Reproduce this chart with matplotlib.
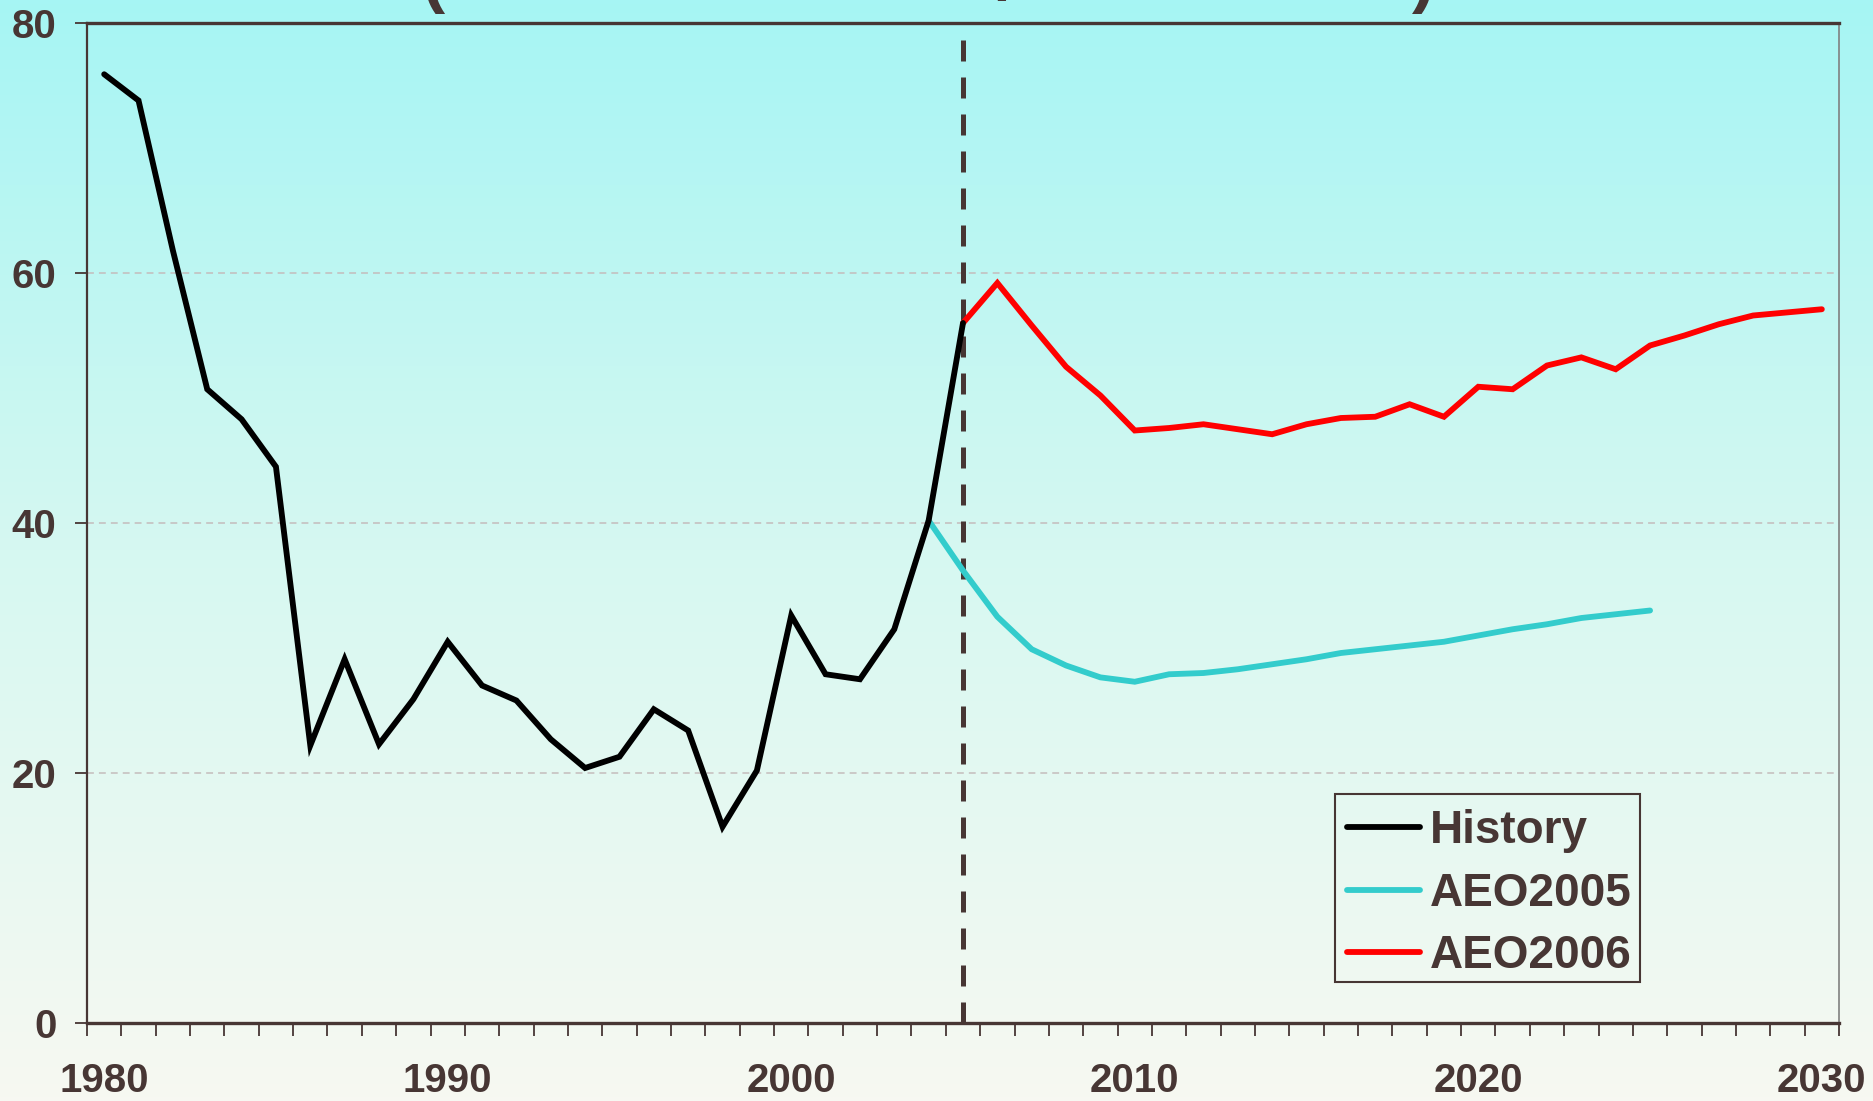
import numpy as np
import matplotlib as mpl
mpl.use('Agg')
import matplotlib.pyplot as plt
from matplotlib.colors import LinearSegmentedColormap
from matplotlib.patches import Rectangle

# plot settings
mpl.rcParams['font.family'] = ['Liberation Sans', 'DejaVu Sans']
mpl.rcParams['font.weight'] = 'bold'

txt_col = '#473634'

# history 1980-2005
hist_years = list(range(1980, 2006))
hist_vals = [75.9, 73.8, 61.8, 50.7, 48.3, 44.5, 22.2, 29.1, 22.3, 25.9,
             30.5, 27.0, 25.8, 22.7, 20.4, 21.3, 25.1, 23.4, 15.7, 20.2,
             32.6, 27.9, 27.5, 31.5, 40.2, 56.0]

# AEO2005 projection 2004-2025
aeo05_years = list(range(2004, 2026))
aeo05_vals = [40.2, 36.2, 32.5, 29.9, 28.6, 27.65, 27.3, 27.9, 28.0, 28.3,
              28.7, 29.1, 29.6, 29.9, 30.2, 30.5, 31.0, 31.5, 31.9, 32.4,
              32.7, 33.0]

# AEO2006 projection 2005-2030
aeo06_years = list(range(2005, 2031))
aeo06_vals = [56.0, 59.2, 55.8, 52.5, 50.2, 47.4, 47.6, 47.9, 47.5, 47.1,
              47.9, 48.4, 48.5, 49.5, 48.5, 50.9, 50.7, 52.6, 53.25, 52.3,
              54.2, 55.0, 55.9, 56.6, 56.85, 57.1]

xlabels = [1980, 1990, 2000, 2010, 2020, 2030]
ylabels = [0, 20, 40, 60, 80]

fig = plt.figure(figsize=(18.73, 11.01), dpi=100)

# background gradient over the whole figure
bg = fig.add_axes([0, 0, 1, 1], zorder=-10)
cmap = LinearSegmentedColormap.from_list('bg', ['#a6f5f4', '#d6f8f1', '#f7f8f2'])
bg.imshow(np.linspace(0, 1, 256).reshape(-1, 1), aspect='auto', cmap=cmap,
          extent=[0, 1, 0, 1])
bg.set_axis_off()

ax = fig.add_axes([0.04645, 0.07084, 0.9354, 0.90827])
ax.set_facecolor('none')

ax.plot(hist_years, hist_vals, color='black', lw=4.2, solid_joinstyle='miter',
        solid_capstyle='round', label='History', zorder=4)
ax.plot(aeo05_years, aeo05_vals, color='#33cccc', lw=4.2, solid_joinstyle='miter',
        solid_capstyle='round', label='AEO2005', zorder=3)
ax.plot(aeo06_years, aeo06_vals, color='#ff0000', lw=4.2, solid_joinstyle='miter',
        solid_capstyle='round', label='AEO2006', zorder=3)

# history / projection divider
ax.vlines(2005, 0, 78.6, colors=txt_col, lw=3.6, linestyles=(0, (4.2, 3.2)), zorder=2)

ax.set_xlim(1979.5, 2030.5)
ax.set_ylim(0, 80)

# grid
for yv in ylabels[1:]:
    ax.axhline(yv, color='#c4bcbc', lw=1.1, linestyle=(0, (4.5, 3.3)), zorder=1)

# x ticks at category boundaries, labels at category centres
ax.set_xticks(np.arange(1979.5, 2031, 1.0))
ax.set_xticklabels([])
ax.set_xticks(xlabels, minor=True)
ax.set_xticklabels([str(x) for x in xlabels], minor=True)
ax.tick_params(axis='x', which='major', direction='out', length=9, width=1.3, color=txt_col)
ax.tick_params(axis='x', which='minor', length=0, pad=28, labelsize=29, labelcolor=txt_col)

ax.set_yticks(ylabels)
ax.set_yticklabels([str(y) for y in ylabels])
ax.tick_params(axis='y', direction='out', length=9, width=1.3, color=txt_col,
               pad=13, labelsize=29, labelcolor=txt_col)

for lbl in ax.get_xticklabels(minor=True) + ax.get_yticklabels():
    lbl.set_fontweight('bold')

ax.spines['left'].set_color(txt_col)
ax.spines['left'].set_linewidth(1.6)
ax.spines['bottom'].set_color(txt_col)
ax.spines['bottom'].set_linewidth(2.4)
ax.spines['top'].set_color(txt_col)
ax.spines['top'].set_linewidth(2.4)
ax.spines['right'].set_color('#808080')
ax.spines['right'].set_linewidth(1.2)

# legend, with its box drawn separately
leg = ax.legend(loc='upper left', bbox_to_anchor=(0.7192, 0.214), frameon=False,
                fontsize=33, handlelength=1.6, handletextpad=0.2,
                labelspacing=0.406, borderpad=0, borderaxespad=0)
for t in leg.get_texts():
    t.set_color(txt_col)
    t.set_fontweight('bold')
ax.add_patch(Rectangle((0.7123, 0.041), 0.1741, 0.188, transform=ax.transAxes,
                       facecolor='none', edgecolor=txt_col, lw=1.5, zorder=5))

# bits of the cut off title at the top edge
for xf, ch in [(433, '('), (1006, '/'), (1424, ')')]:
    fig.text(xf / 1873, 1.0, ch, fontsize=50, fontweight='bold', color=txt_col,
             ha='center', va='baseline')

plt.savefig('out.png', dpi=100)
